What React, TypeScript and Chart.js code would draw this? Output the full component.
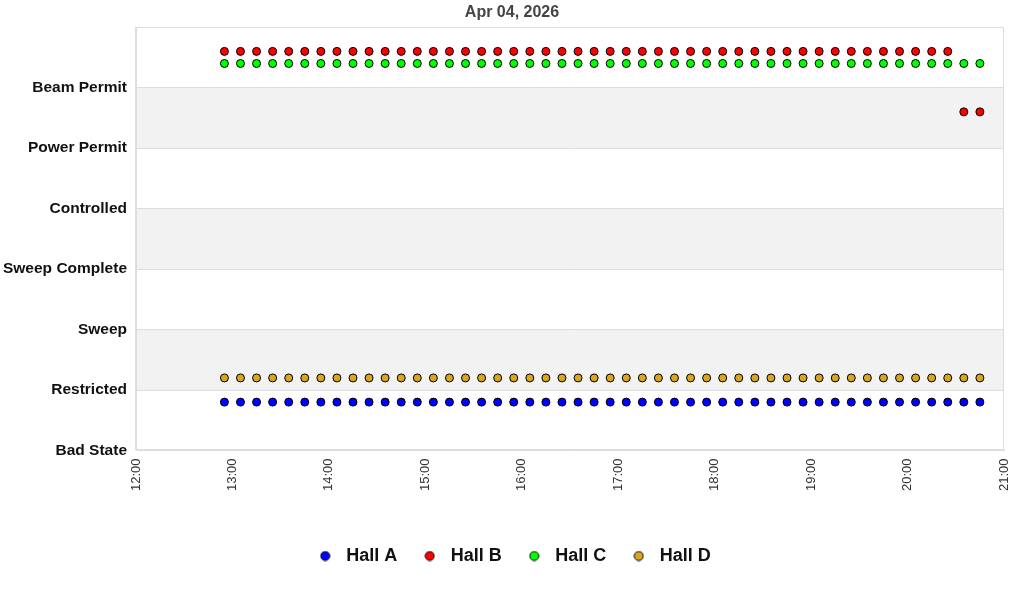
import { useEffect, useRef } from "react";
import { Chart, registerables } from "chart.js";

Chart.register(...registerables);

const TITLE = "Apr 04, 2026";

// state labels, index = state code
const STATES = [
  "Bad State",
  "Restricted",
  "Sweep",
  "Sweep Complete",
  "Controlled",
  "Power Permit",
  "Beam Permit",
];

const TIMES = [
  "12:55",
  "13:05", "13:15", "13:25", "13:35", "13:45", "13:55",
  "14:05", "14:15", "14:25", "14:35", "14:45", "14:55",
  "15:05", "15:15", "15:25", "15:35", "15:45", "15:55",
  "16:05", "16:15", "16:25", "16:35", "16:45", "16:55",
  "17:05", "17:15", "17:25", "17:35", "17:45", "17:55",
  "18:05", "18:15", "18:25", "18:35", "18:45", "18:55",
  "19:05", "19:15", "19:25", "19:35", "19:45", "19:55",
  "20:05", "20:15", "20:25", "20:35", "20:45",
];

const HALL_A = [
  1, 1, 1, 1, 1, 1, 1, 1, 1, 1, 1, 1,
  1, 1, 1, 1, 1, 1, 1, 1, 1, 1, 1, 1,
  1, 1, 1, 1, 1, 1, 1, 1, 1, 1, 1, 1,
  1, 1, 1, 1, 1, 1, 1, 1, 1, 1, 1, 1,
];
const HALL_B = [
  6, 6, 6, 6, 6, 6, 6, 6, 6, 6, 6, 6,
  6, 6, 6, 6, 6, 6, 6, 6, 6, 6, 6, 6,
  6, 6, 6, 6, 6, 6, 6, 6, 6, 6, 6, 6,
  6, 6, 6, 6, 6, 6, 6, 6, 6, 6, 5, 5,
];
const HALL_C = [
  6, 6, 6, 6, 6, 6, 6, 6, 6, 6, 6, 6,
  6, 6, 6, 6, 6, 6, 6, 6, 6, 6, 6, 6,
  6, 6, 6, 6, 6, 6, 6, 6, 6, 6, 6, 6,
  6, 6, 6, 6, 6, 6, 6, 6, 6, 6, 6, 6,
];
const HALL_D = [
  1, 1, 1, 1, 1, 1, 1, 1, 1, 1, 1, 1,
  1, 1, 1, 1, 1, 1, 1, 1, 1, 1, 1, 1,
  1, 1, 1, 1, 1, 1, 1, 1, 1, 1, 1, 1,
  1, 1, 1, 1, 1, 1, 1, 1, 1, 1, 1, 1,
];

const HALL_NAMES = ["Hall A", "Hall B", "Hall C", "Hall D"];

const FONT = "'Liberation Sans', Arial, Helvetica, sans-serif";

const toMinutes = (t: string) => {
  const [h, m] = t.split(":").map(Number);
  return h * 60 + m;
};

// small dot image for the legend, so the marker can sit in a wider box
const makeDot = (color: string) => {
  const c = document.createElement("canvas");
  c.width = 11;
  c.height = 11;
  const g = c.getContext("2d")!;
  g.beginPath();
  g.arc(5.5, 5.5, 4.5, 0, Math.PI * 2);
  g.fillStyle = color;
  g.fill();
  g.lineWidth = 1;
  g.strokeStyle = "#000000";
  g.stroke();
  return c;
};

const bandsPlugin = {
  id: "bands",
  beforeDraw: (chart: Chart) => {
    const { ctx, chartArea, scales } = chart;
    const y = scales.y;
    ctx.save();
    ctx.fillStyle = "#f2f2f2";
    for (const v of [1, 3, 5]) {
      const top = y.getPixelForValue(v + 1);
      const bottom = y.getPixelForValue(v);
      ctx.fillRect(chartArea.left, top, chartArea.right - chartArea.left, bottom - top);
    }
    ctx.restore();
  },
  beforeDatasetsDraw: (chart: Chart) => {
    const { ctx, chartArea } = chart;
    ctx.save();
    ctx.strokeStyle = "#dddddd";
    ctx.lineWidth = 1;
    ctx.strokeRect(
      Math.round(chartArea.left) - 0.5,
      Math.round(chartArea.top) + 0.5,
      Math.round(chartArea.right - chartArea.left),
      Math.round(chartArea.bottom - chartArea.top) - 1
    );
    ctx.restore();
  },
};

export default function App() {
  const canvasRef = useRef<HTMLCanvasElement | null>(null);
  const chartRef = useRef<Chart | null>(null);

  useEffect(() => {
    if (!canvasRef.current) {
      return;
    }
    if (chartRef.current) {
      chartRef.current.destroy();
    }

    const series = [HALL_A, HALL_B, HALL_C, HALL_D];
    const offsets = [-0.2, 0.6, 0.4, 0.2];
    const colors = ["#0000ff", "#ff0000", "#00ff00", "#daa520"];
    const dots = colors.map(makeDot);

    chartRef.current = new Chart(canvasRef.current, {
      type: "scatter",
      data: {
        datasets: series.map((vals, i) => ({
          label: HALL_NAMES[i],
          data: TIMES.map((t, j) => ({ x: toMinutes(t), y: vals[j] + offsets[i] })),
          backgroundColor: colors[i],
          borderColor: "#000000",
          borderWidth: 1,
          pointRadius: 4,
          pointStyle: "circle",
        })),
      },
      plugins: [bandsPlugin],
      options: {
        responsive: false,
        animation: false,
        layout: { padding: { top: 0, right: 0, bottom: 25, left: 0 } },
        plugins: {
          title: {
            display: true,
            text: TITLE,
            color: "#444444",
            font: { family: FONT, size: 16, weight: "bold" },
            padding: { top: 3, bottom: 5 },
          },
          legend: {
            position: "bottom",
            labels: {
              usePointStyle: true,
              pointStyleWidth: 24,
              boxHeight: 10,
              padding: 20.5,
              color: "#111111",
              font: { family: FONT, size: 18, weight: "bold" },
              generateLabels: (chart: Chart) =>
                chart.data.datasets.map((ds: any, i: number) => ({
                  text: ds.label,
                  pointStyle: dots[i],
                  fillStyle: colors[i],
                  strokeStyle: "#000000",
                  lineWidth: 1,
                  fontColor: "#111111",
                  hidden: false,
                  datasetIndex: i,
                })),
            },
          },
          tooltip: { enabled: false },
        },
        scales: {
          x: {
            type: "linear",
            min: 720,
            max: 1260,
            afterFit: (scale: any) => {
              scale.height = 76;
              scale.paddingLeft = 0;
              scale.paddingRight = 20;
            },
            ticks: {
              stepSize: 60,
              minRotation: 90,
              maxRotation: 90,
              padding: 8,
              color: "#333333",
              font: { family: FONT, size: 13 },
              callback: (v: any) => {
                const h = Math.floor(Number(v) / 60);
                const m = Number(v) % 60;
                return `${h}:${String(m).padStart(2, "0")}`;
              },
            },
            grid: { display: false, drawTicks: false },
            border: { color: "#dddddd" },
          },
          y: {
            type: "linear",
            min: 0,
            max: 7,
            afterFit: (scale: any) => {
              scale.width = 136;
            },
            ticks: {
              stepSize: 1,
              padding: 9,
              color: "#111111",
              font: { family: FONT, size: 15.5, weight: "bold" },
              callback: (v: any) => STATES[Number(v)] ?? "",
            },
            grid: { color: "#dddddd", drawTicks: false },
            border: { color: "#dddddd" },
          },
        },
      } as any,
    });

    return () => {
      chartRef.current?.destroy();
      chartRef.current = null;
    };
  }, []);

  return (
    <div style={{ position: "fixed", left: 0, top: 0, width: 1024, height: 600, background: "#ffffff" }}>
      <canvas ref={canvasRef} width={1024} height={600} />
    </div>
  );
}
